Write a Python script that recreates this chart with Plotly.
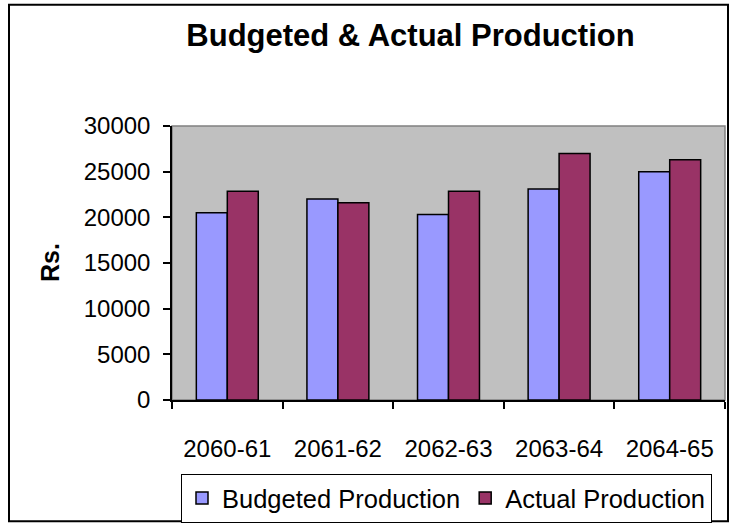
import plotly.graph_objects as go

categories = ["2060-61", "2061-62", "2062-63", "2063-64", "2064-65"]
budgeted = [20500, 22000, 20300, 23100, 25000]
actual = [22850, 21600, 22850, 27000, 26300]
y_ticks = [0, 5000, 10000, 15000, 20000, 25000, 30000]
y_tick_labels = ["0", "5000", "10000", "15000", "20000", "25000", "30000"]

FONT = "Arial, Liberation Sans, sans-serif"
W, H = 731, 529
L, R, T, B = 172, 725, 126, 404
pw, ph = R - L, B - T

def px(x):
    return (x - L) / pw

def py(y):
    return (B - y) / ph

fig = go.Figure()
fig.add_trace(go.Bar(name="Budgeted Production", x=categories, y=budgeted,
                     marker=dict(color="#9999FF", line=dict(color="black", width=1.5))))
fig.add_trace(go.Bar(name="Actual Production", x=categories, y=actual,
                     marker=dict(color="#993366", line=dict(color="black", width=1.5))))

fig.update_layout(
    width=W, height=H,
    margin=dict(l=L, r=W - R, t=T, b=H - B, pad=0),
    paper_bgcolor="white", plot_bgcolor="#C0C0C0",
    font=dict(family=FONT, size=24, color="black"),
    barmode="group", bargap=0.44, bargroupgap=0,
    title=dict(text="<b>Budgeted &amp; Actual Production</b>", x=410.5 / W, xanchor="center",
               y=1 - 35 / H, yanchor="middle", font=dict(size=31, family=FONT)),
    showlegend=True,
    legend=dict(orientation="h", x=px(181), xanchor="left", y=py(479), yanchor="top",
                bordercolor="black", borderwidth=1, bgcolor="white",
                font=dict(size=25.5, family=FONT), itemwidth=30, tracegroupgap=0),
    xaxis=dict(showline=True, linecolor="black", linewidth=1.5, ticks="outside",
               tickson="boundaries", ticklen=7, tickcolor="black", tickwidth=1.5,
               showgrid=False, ticklabelstandoff=26, fixedrange=True),
    yaxis=dict(range=[0, 30000], tickvals=y_ticks, ticktext=y_tick_labels, showline=True,
               linecolor="black", linewidth=1.5, ticks="outside", ticklen=7,
               tickcolor="black", tickwidth=1.5, showgrid=False, zeroline=False,
               ticklabelstandoff=8, fixedrange=True),
    shapes=[
        dict(type="rect", xref="paper", yref="paper", x0=0, x1=1, y0=0, y1=1,
             line=dict(color="#808080", width=1.5), layer="below"),
        dict(type="rect", xref="paper", yref="paper", x0=px(9), x1=px(728),
             y0=py(527), y1=py(3), line=dict(color="black", width=2)),
    ],
    annotations=[
        dict(text="<b>Rs.</b>", xref="paper", yref="paper", x=px(50), y=py(265),
             showarrow=False, textangle=-90, font=dict(size=25, family=FONT),
             xanchor="center", yanchor="middle"),
    ],
)

fig.write_html("out.html", config={"displayModeBar": False},
               post_script="document.body.style.margin='0';")
